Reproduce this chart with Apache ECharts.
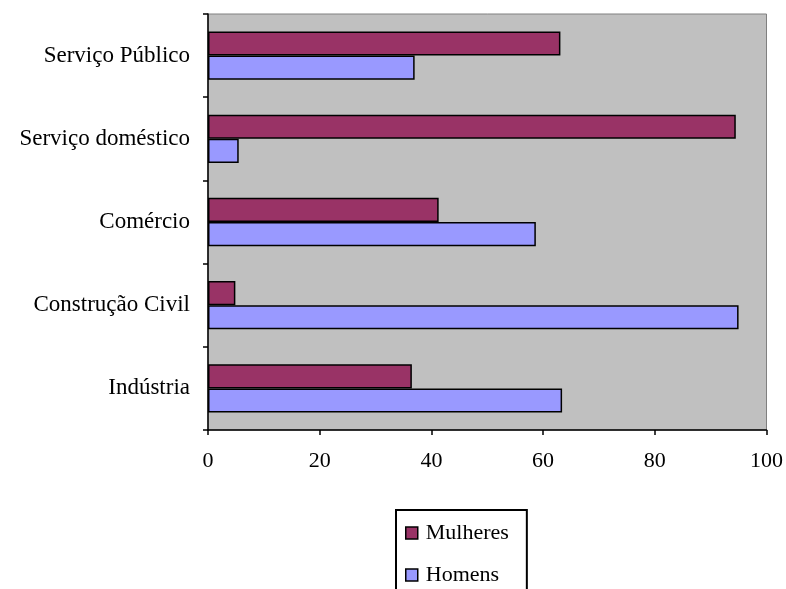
<!DOCTYPE html>
<html>
<head>
<meta charset="utf-8">
<script src="https://cdn.jsdelivr.net/npm/echarts@6/dist/echarts.min.js"></script>
<style>
  html, body { margin: 0; padding: 0; background: #fff; }
  #chart { width: 786px; height: 589px; }
</style>
</head>
<body>
<div id="chart"></div>
<script>
// categories listed bottom -> top (category axis starts at the bottom)
const categories = ['Indústria', 'Construção Civil', 'Comércio', 'Serviço doméstico', 'Serviço Público'];
const mulheres = [36.5, 4.9, 41.3, 94.5, 63.1];
const homens = [63.4, 95.0, 58.7, 5.5, 37.0];
const xTicks = { min: 0, max: 100, interval: 20 };

const font = '"Liberation Serif", "DejaVu Serif", serif';
const chart = echarts.init(document.getElementById('chart'));

chart.setOption({
  animation: false,
  backgroundColor: '#fff',
  grid: {
    left: 208, right: 18, top: 14, bottom: 159,
    show: true, backgroundColor: '#c0c0c0', borderColor: '#808080', borderWidth: 1
  },
  xAxis: {
    type: 'value',
    min: xTicks.min, max: xTicks.max, interval: xTicks.interval,
    axisLine: { show: true, lineStyle: { color: '#000', width: 1.5 } },
    axisTick: { show: true, length: 5, lineStyle: { color: '#000', width: 1.5 } },
    axisLabel: { color: '#000', fontFamily: font, fontSize: 22, margin: 20 },
    splitLine: { show: false }
  },
  yAxis: {
    type: 'category',
    data: categories,
    axisLine: { show: true, lineStyle: { color: '#000', width: 1.5 } },
    axisTick: { show: true, length: 5, lineStyle: { color: '#000', width: 1.5 } },
    axisLabel: { color: '#000', fontFamily: font, fontSize: 23, margin: 18 }
  },
  legend: {
    data: ['Mulheres', 'Homens'],
    orient: 'vertical',
    left: 396, top: 510, height: 200,
    icon: 'rect',
    itemWidth: 12, itemHeight: 12, itemGap: 20,
    padding: [12, 18, 4, 9],
    borderColor: '#000', borderWidth: 2,
    backgroundColor: '#fff',
    itemStyle: { borderColor: '#000', borderWidth: 1.5 },
    textStyle: { color: '#000', fontFamily: font, fontSize: 22, padding: [0, 0, 0, 3] }
  },
  series: [
    {
      name: 'Mulheres', type: 'bar', data: mulheres,
      barGap: '0%', barCategoryGap: '42%',
      itemStyle: { color: '#993366', borderColor: '#000', borderWidth: 1.5 }
    },
    {
      name: 'Homens', type: 'bar', data: homens,
      itemStyle: { color: '#9999ff', borderColor: '#000', borderWidth: 1.5 }
    }
  ]
});
</script>
</body>
</html>
